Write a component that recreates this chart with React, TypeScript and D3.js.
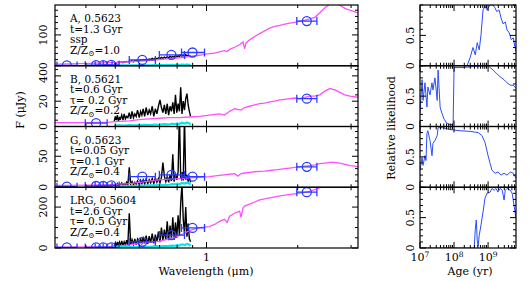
import React from "react";
import * as d3 from "d3";

// observed-spectrum wavelength grid (micron)
const lamGrid = [0.496,0.500,0.504,0.508,0.512,0.516,0.520,0.525,0.530,0.535,0.540,0.545,0.550,0.556,0.562,0.568,0.574,0.580,0.586,0.592,0.600,0.606,0.612,0.618,0.625,0.632,0.640,0.647,0.654,0.662,0.670,0.678,0.686,0.694,0.702,0.710,0.718,0.726,0.734,0.742,0.750,0.758,0.766,0.774,0.782,0.790,0.798,0.806,0.814,0.822,0.830,0.838,0.846,0.854,0.862,0.870,0.878,0.886];

const obsA = [8,10,9,11,10,12,11,12,10,13,12,14,13,15,14,16,13,17,15,18,16,19,17,20,18,21,19,22,20,24,21,25,22,26,23,27,24,28,25,29,26,31,27,30,28,33,29,32,30,35,31,34,30,36,32,34,31,33];
const obsB = [4,8,5,9,4,7,6,9,5,10,6,8,7,11,6,12,7,10,8,13,7,12,9,14,8,15,9,13,10,16,8,14,10,16,21,15,11,17,10,18,9,16,12,19,10,25,11,18,12,31,10,20,13,22,26,17,12,8];
const obsC = [3,5,2,6,3,5,4,7,3,6,4,8,3,32,5,9,4,8,5,10,4,11,6,12,5,13,6,12,7,14,6,15,8,14,7,16,40,18,9,17,8,20,10,53,9,22,12,25,120,14,24,11,115,12,20,9,16,8];
const obsD = [10,25,8,30,12,28,10,35,12,30,15,38,14,170,16,40,18,45,15,42,20,50,18,55,22,60,20,58,25,70,22,65,30,80,28,100,35,90,40,130,38,110,45,150,40,125,50,160,60,220,310,140,70,200,55,120,45,30];

// error spectrum
const errLam = [0.496,0.515,0.535,0.556,0.577,0.600,0.623,0.647,0.673,0.699,0.726,0.754,0.770,0.784,0.800,0.814,0.830,0.846,0.862,0.879,0.886];
const errA = [1,1,1.5,1,1.5,1.5,2,1.5,2,2,2.5,2,3,2.5,3,3,3.5,3,4,3,2];
const errB = [0.8,1,0.8,1.2,1,1.2,1.4,1.2,1.5,1.4,1.8,1.6,2.2,1.8,2.5,2,3,2.4,3.2,2.5,1.5];
const errC = [1.5,2,1.5,2,2,2.5,2.5,3,3,3.5,3.5,4,5,4.5,6,5,7,6,7.5,6,4];
const errD = [4,5,4,6,5,6,7,6,8,8,9,10,12,10,14,12,18,14,20,16,10];

// best-fit model spectra [micron, uJy]
const modelA = [[0.314,5],[0.352,6],[0.410,8],[0.477,10],[0.515,11],[0.556,13],[0.600,15],[0.647,17],[0.699,20],[0.754,23],[0.814,26],[0.879,30],[0.948,34],[0.985,37],[1.023,39],[1.063,41],[1.104,45],[1.147,49],[1.17,46],[1.192,53],[1.238,60],[1.286,68],[1.32,77],[1.336,55],[1.35,74],[1.388,84],[1.442,95],[1.498,104],[1.556,113],[1.617,122],[1.680,128],[1.745,131],[1.813,135],[1.883,138],[1.956,141],[2.032,145],[2.111,148],[2.193,152],[2.278,157],[2.366,172],[2.458,188],[2.554,200],[2.653,202],[2.756,196],[2.863,186],[2.974,180],[3.089,175],[3.162,171]];
const modelB = [[0.314,3],[0.352,3],[0.410,3],[0.477,3.5],[0.515,4],[0.556,4.5],[0.600,5.5],[0.647,6],[0.699,6.5],[0.754,7],[0.814,7],[0.879,7.5],[0.948,8],[1.023,9],[1.104,10],[1.147,9],[1.192,12],[1.238,14],[1.30,13],[1.336,15],[1.388,16],[1.442,17],[1.498,18],[1.556,18.5],[1.617,19.5],[1.680,20],[1.745,21],[1.813,21.5],[1.883,22],[1.956,22.5],[2.032,22],[2.111,23],[2.193,24],[2.278,24],[2.366,25],[2.458,28],[2.554,30],[2.653,29],[2.756,27],[2.863,25],[2.974,24],[3.089,23.5],[3.162,23]];
const modelC = [[0.314,3],[0.352,3],[0.410,3.5],[0.477,4],[0.515,5],[0.556,6],[0.600,8],[0.647,10],[0.699,12],[0.754,13],[0.814,14],[0.879,15],[0.948,16],[1.023,17],[1.104,19],[1.147,20],[1.192,21],[1.238,22],[1.27,18],[1.30,22],[1.336,23],[1.388,24],[1.442,25],[1.498,25.5],[1.556,26],[1.617,27],[1.680,28],[1.745,29],[1.813,30],[1.883,31],[1.956,32],[2.032,33],[2.111,34],[2.193,35],[2.278,36],[2.366,38],[2.458,39],[2.554,40],[2.653,40],[2.756,39],[2.863,37],[2.974,35],[3.089,34],[3.162,33]];
const modelD = [[0.314,4],[0.352,4],[0.410,5],[0.477,7],[0.515,10],[0.556,15],[0.600,22],[0.647,28],[0.699,33],[0.754,45],[0.814,60],[0.879,85],[0.948,100],[1.023,105],[1.063,115],[1.104,130],[1.147,140],[1.17,125],[1.192,155],[1.238,170],[1.286,180],[1.30,150],[1.32,195],[1.336,205],[1.388,215],[1.442,225],[1.498,235],[1.556,240],[1.617,245],[1.680,250],[1.745,255],[1.813,258],[1.883,262],[1.956,265],[2.032,268],[2.111,272],[2.193,278],[2.278,285],[2.366,295],[2.458,310],[2.554,320],[2.653,325],[2.756,320],[2.863,315],[2.974,310],[3.089,305],[3.162,300]];

// photometry: band centre and width (micron)
const photLam = [0.346,0.432,0.456,0.485,0.614,0.766,0.899,2.143];
const photLo = [0.321,0.398,0.429,0.456,0.556,0.699,0.827,1.986];
const photHi = [0.374,0.470,0.488,0.515,0.678,0.846,0.985,2.314];
const photA = [1,2,2,3,19,35,43,145];
const photB = [null,2.6,null,null,null,null,null,22];
const photC = [1,2,2,3,17,20,17,33];
const photD = [3,3,3,3,30,63,98,273];

// age likelihoods
const ageA = [1e7,2.4e8,2.95e8,3.6e8,4.2e8,4.8e8,5.5e8,6.2e8,7.1e8,8.1e8,9.3e8,1.15e9,1.4e9,1.6e9,1.8e9,2.1e9,2.4e9,2.75e9,3.2e9,3.6e9,4.2e9,4.8e9,5.5e9,6.2e9,6.6e9];
const likeA = [0,0,0.13,0.30,0.18,0.38,0.26,0.51,0.92,0.98,0.92,1.0,1.0,0.95,0.89,0.92,0.79,0.69,0.72,0.59,0.54,0.43,0.46,0.30,0.23];
const ageB = [1e7,1.15e7,1.23e7,1.4e7,1.6e7,1.7e7,1.97e7,2.25e7,2.4e7,2.75e7,3.2e7,3.4e7,3.9e7,4.4e7,5.1e7,6.2e7,7.6e7,9.4e7,1.0e8,1.5e8,2.95e8,5.8e8,1.0e9,1.4e9,1.8e9,2.25e9,2.95e9,3.6e9,4.5e9,5.5e9,6.6e9];
const likeB = [0.22,0.77,0.43,0.72,0.32,0.65,0.52,0.72,0.60,0.80,0.43,0.93,0.32,0.22,0.12,0.05,0.03,0.03,0.97,0.97,0.98,1.0,1.0,0.93,0.87,0.82,0.77,0.72,0.68,0.68,0.63];
const ageC = [1e7,1.15e7,1.23e7,1.4e7,1.5e7,1.6e7,1.7e7,1.97e7,2.25e7,2.4e7,2.75e7,3.2e7,3.4e7,4.75e7,7.6e7,1.5e8,2.95e8,5.1e8,6.6e8,8.1e8,1.0e9,1.15e9,1.3e9,1.6e9,1.95e9,2.4e9,2.95e9,3.6e9,4.5e9,5.5e9,6.6e9];
const likeC = [0.28,0.49,0.36,0.52,0.44,0.89,0.93,0.77,0.52,0.72,0.77,0.85,0.98,0.98,0.95,0.93,0.92,0.90,0.85,0.74,0.52,0.39,0.28,0.23,0.25,0.20,0.23,0.20,0.25,0.23,0.15];
const ageD = [1e7,3.9e8,4.2e8,4.5e8,4.8e8,5.1e8,5.5e8,6.2e8,7.1e8,8.1e8,9.3e8,1.15e9,1.3e9,1.5e9,1.7e9,1.95e9,2.25e9,2.6e9,2.95e9,3.2e9,3.6e9,4.5e9,5.1e9,5.8e9,6.6e9];
const likeD = [0,0,0.30,0.46,0.13,0.03,0.21,0.38,0.59,0.82,0.90,0.92,0.98,0.95,0.98,0.92,0.98,0.95,0.79,0.95,0.98,0.95,0.90,0.70,0.49];

const lamTicks = [0.4,0.5,0.6,0.7,0.8,0.9,1,2,3];
const ageMajor = [1e7,1e8,1e9];

const panels = [
  { text: ["A, 0.5623", "t=1.3 Gyr", "ssp"], z: "1.0", yMax: 197, major: [0, 100], minor: 20, obs: obsA, err: errA, model: modelA, phot: photA, age: ageA, like: likeA },
  { text: ["B, 0.5621", "t=0.6 Gyr", "\u03c4= 0.2 Gyr"], z: "0.2", yMax: 48, major: [0, 20, 40], minor: 5, obs: obsB, err: errB, model: modelB, phot: photB, age: ageB, like: likeB },
  { text: ["G, 0.5623", "t=0.05 Gyr", "\u03c4=0.1 Gyr"], z: "0.4", yMax: 98, major: [0, 50], minor: 10, obs: obsC, err: errC, model: modelC, phot: photC, age: ageC, like: likeC },
  { text: ["LRG, 0.5604", "t=2.6 Gyr", "\u03c4= 0.5 Gyr"], z: "0.4", yMax: 297, major: [0, 200], minor: 50, obs: obsD, err: errD, model: modelD, phot: photD, age: ageD, like: likeD },
];

const W = 529, H = 281;
const top0 = 5, bot0 = 248;
const ph = (bot0 - top0) / 4;
const L = { x0: 55, x1: 358 };
const R = { x0: 420, x1: 516 };
const font = "'DejaVu Serif', serif";

const xLam = d3.scaleLog().domain([10 ** -0.5, 10 ** 0.5]).range([L.x0, L.x1]);
const xAge = d3.scaleLog().domain([1e7, 10 ** 9.82]).range([R.x0, R.x1]);

const ageMinor: number[] = [];
ageMajor.forEach((d) => d3.range(1, 10).forEach((k) => { if (k * d <= 10 ** 9.82) ageMinor.push(k * d); }));

const Panel = ({ p, i }: { p: any; i: number }) => {
  const top = top0 + i * ph, bottom = top + ph;
  const y = d3.scaleLinear().domain([0, p.yMax]).range([bottom, top]);
  const yl = d3.scaleLinear().domain([0, 1]).range([bottom, top]);
  const line = d3.line<number[]>().x((d) => xLam(d[0])).y((d) => y(d[1]));
  const obsPts = lamGrid.map((l, j) => [l, p.obs[j]]);
  const errPts = errLam.map((l, j) => [l, p.err[j]]);
  const likeLine = d3.line<number>().x((d) => xAge(d)).y((d, j) => yl(p.like[j]));
  const minorY = d3.range(0, p.yMax + 1e-9, p.minor);
  const minorL = d3.range(0, 1.0001, 0.1);
  return (
    <g>
      <defs>
        <clipPath id={`cl${i}`}><rect x={L.x0} y={top} width={L.x1 - L.x0} height={ph} /></clipPath>
        <clipPath id={`cr${i}`}><rect x={R.x0} y={top} width={R.x1 - R.x0} height={ph} /></clipPath>
      </defs>
      <g clipPath={`url(#cl${i})`}>
        <path d={line(obsPts as any) || ""} fill="none" stroke="#000" strokeWidth={1.4} />
        <path d={line(p.model) || ""} fill="none" stroke="#ff50ff" strokeWidth={1.3} />
        <path d={line(errPts as any) || ""} fill="none" stroke="#00e8e8" strokeWidth={2.2} />
        {photLam.map((l, j) => p.phot[j] == null ? null : (
          <g key={j} stroke="#2a3cff" strokeWidth={1.3} fill="none">
            <line x1={xLam(photLo[j])} x2={xLam(photHi[j])} y1={y(p.phot[j])} y2={y(p.phot[j])} />
            <line x1={xLam(photLo[j])} x2={xLam(photLo[j])} y1={y(p.phot[j]) - 4} y2={y(p.phot[j]) + 4} />
            <line x1={xLam(photHi[j])} x2={xLam(photHi[j])} y1={y(p.phot[j]) - 4} y2={y(p.phot[j]) + 4} />
            <circle cx={xLam(l)} cy={y(p.phot[j])} r={4.5} />
          </g>
        ))}
      </g>
      <g clipPath={`url(#cr${i})`}>
        <path d={likeLine(p.age) || ""} fill="none" stroke="#2a4cff" strokeWidth={1} />
      </g>
      {/* frames */}
      <rect x={L.x0} y={top} width={L.x1 - L.x0} height={ph} fill="none" stroke="#000" strokeWidth={1.2} />
      <rect x={R.x0} y={top} width={R.x1 - R.x0} height={ph} fill="none" stroke="#000" strokeWidth={1.2} />
      <g stroke="#000" strokeWidth={1}>
        {lamTicks.map((t) => {
          const len = t === 1 ? 6 : 3;
          return (
            <g key={t}>
              <line x1={xLam(t)} x2={xLam(t)} y1={bottom} y2={bottom - len} />
              <line x1={xLam(t)} x2={xLam(t)} y1={top} y2={top + len} />
            </g>
          );
        })}
        {ageMinor.map((t) => {
          const len = ageMajor.includes(t) ? 6 : 3;
          return (
            <g key={t}>
              <line x1={xAge(t)} x2={xAge(t)} y1={bottom} y2={bottom - len} />
              <line x1={xAge(t)} x2={xAge(t)} y1={top} y2={top + len} />
            </g>
          );
        })}
        {minorY.map((t) => {
          const len = p.major.includes(t) ? 6 : 3;
          return (
            <g key={t}>
              <line x1={L.x0} x2={L.x0 + len} y1={y(t)} y2={y(t)} />
              <line x1={L.x1} x2={L.x1 - len} y1={y(t)} y2={y(t)} />
            </g>
          );
        })}
        {minorL.map((t) => {
          const len = Math.abs(t - 0.5) < 1e-6 || t < 1e-6 ? 6 : 3;
          return (
            <g key={t}>
              <line x1={R.x0} x2={R.x0 + len} y1={yl(t)} y2={yl(t)} />
              <line x1={R.x1} x2={R.x1 - len} y1={yl(t)} y2={yl(t)} />
            </g>
          );
        })}
      </g>
      {p.major.map((t: number) => (
        <text key={t} transform={`translate(${L.x0 - 8},${y(t)}) rotate(-90)`} textAnchor="middle" fontSize={11} fontFamily={font}>{t}</text>
      ))}
      {[0, 0.5].map((t) => (
        <text key={t} transform={`translate(${R.x0 - 6},${yl(t)}) rotate(-90)`} textAnchor="middle" fontSize={11} fontFamily={font}>{t}</text>
      ))}
      <g fontSize={10.5} fontFamily={font}>
        {p.text.map((s: string, j: number) => (
          <text key={j} x={70} y={top + 17 + j * 10.5}>{s}</text>
        ))}
        <text x={70} y={top + 17 + 3 * 10.5}>
          Z/Z<tspan fontSize={7.5} dy={2.5}>{"\u2299"}</tspan><tspan dy={-2.5}>={p.z}</tspan>
        </text>
      </g>
    </g>
  );
};

export default function App() {
  return (
    <svg width={W} height={H} style={{ position: "absolute", left: 0, top: 0, background: "#fff" }}>
      {panels.map((p, i) => <Panel key={i} p={p} i={i} />)}
      <text x={xLam(1)} y={261} textAnchor="middle" fontSize={11} fontFamily={font}>1</text>
      {ageMajor.map((t) => (
        <text key={t} x={xAge(t)} y={261} textAnchor="middle" fontSize={11} fontFamily={font}>
          10<tspan fontSize={7.5} dy={-4}>{Math.round(Math.log10(t))}</tspan>
        </text>
      ))}
      <text x={206} y={275} textAnchor="middle" fontSize={11} fontFamily={font}>Wavelength ({"\u03bc"}m)</text>
      <text x={470} y={275} textAnchor="middle" fontSize={11} fontFamily={font}>Age (yr)</text>
      <text transform="translate(24,110) rotate(-90)" textAnchor="middle" fontSize={11} fontFamily={font}>F ({"\u03bc"}Jy)</text>
      <text transform="translate(395,128) rotate(-90)" textAnchor="middle" fontSize={11} fontFamily={font}>Relative likelihood</text>
    </svg>
  );
}
